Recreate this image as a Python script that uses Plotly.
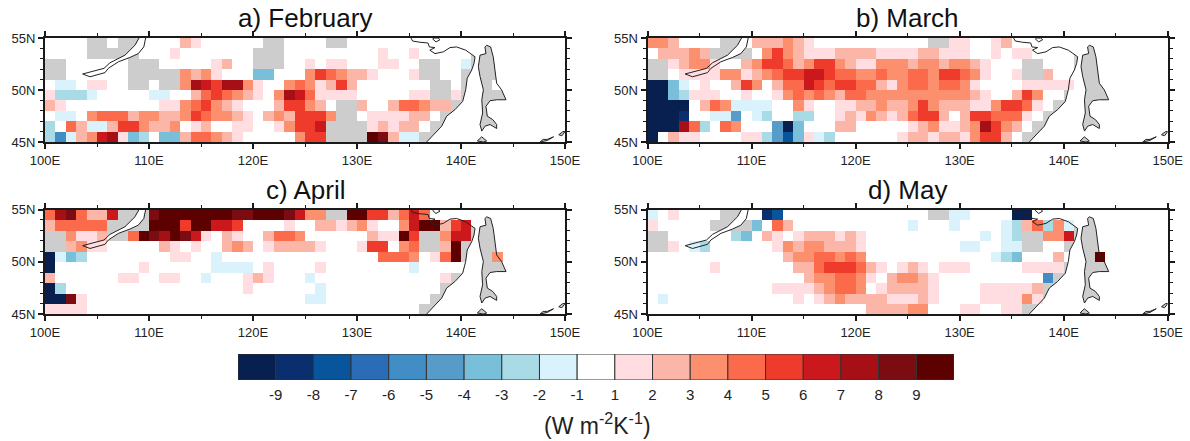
import numpy as np
import plotly.graph_objects as go

# Cell classes, west to east (100E..), north to south (55N..45N).
# '.' = class 0 (-1..1), 1-9 = positive classes, a-i = negative classes (a=-1 .. i=-9),
# '#' = no value. Rows are padded with '#' up to 50 cells.
FEBRUARY = [
    "....##.##. ...21..... .##....##. .......... .",
    "....#####. ..1....... ###....... ..1..1.... .",
    "##......## #.....12.. ###..1.11. ..11..##.. a",
    "##......## ###3231... cc...35432 21...1##.. #",
    ".aa.11..## .##3765773 1..3431252 .......##. ###.",
    "1bbba..... aa..245432 1.37641111 .....11##1 #",
    "21........ .11345321. ..25532.## 2..244322#",
    ".aa.344423 3223543321 .2325553## .111122.##",
    "b.42aa2553 223.12..11 ..13556### #12122.###",
    "bea23671cb .cc244321. ....355### #982aa####",
]
MARCH = [
    "332....##. 222321.... .......##1 1..12..... .",
    ".22232#### .353211122 2211112211 1..1.11... .",
    "##12331..2 3554235532 1133323323 321...##.. .",
    "##.1111331 2345566544 3343344355 431..1##2. .",
    "iica.1..25 3.24465455 4421344344 31....1111 1",
    "iicb111..1 ..13434324 4333333333 321..253.. #",
    "iiii.243aa aa..31..11 2232235322 21135541.#",
    "iiih..aad. ab..bb..12 132124552. 2554441.##",
    "iii74b.43. ..dic...22 .....12311 237532.###",
    "i.211....1 1bdgc1ab.. ....122122 13552.####",
]
APRIL = [
    "4784226### 8999999988 9998633##9 9552464... .",
    "244444#### 999599665. ...1..2212 31..369925 6",
    "##3112##49 879861.21. .2443..... .21195##36 6",
    "##2311.... .21.1..232 .122221... 155.34##29 #",
    "iacb...... ..11..a... .......... ..4443.149 ###3",
    "i........1 ......aaaa .1....1... .....a.... .",
    "2......11. .11..a...1 21...a.... ........1# #",
    "ib........ .........1 ......a... ........## #",
    "ii81...... .......... .....aa... .......###",
    "1111...... .......... .......... ......####",
]
MAY = [
    "a.1....##. .hg....... .......##a a....ii... .",
    "1.....#### c.42...... .....a...a ....ab24b3 a",
    "##......bc .21.122212 1......... ..a.ab##33 6",
    "##1.ab.... ..13233222 1......... aa..aa##.. #",
    ".......... ...2334434 3......... ...abc...2 .##9",
    "......1... ....224555 421.121.11 1.....1111 #",
    ".......... .....23344 31.23321.. ........e#",
    ".......... ..11112344 3.122221.. ..111112##",
    ".a........ ....1.1232 22211121.. ..111131##",
    ".......... .......... .222233... 11..11####",
]
PANEL_TITLES = ["a) February", "b) March", "c) April", "d) May"]
CLASS_COLORS = ["#08204f", "#0b2e6e", "#08559c", "#2a6cb5", "#418ec6", "#579bc9", "#7abfda",
                "#a9dbe6", "#daf2fb", "#ffffff", "#ffdde0", "#fcb6a8", "#fc8f6e", "#fb6a4a",
                "#ef3b2c", "#cb181d", "#a50f15", "#7a0c12", "#5c0000"]
BAR_CLASSES = list(range(-9, 10))
BAR_LABELS = ["-9", "-8", "-7", "-6", "-5", "-4", "-3", "-2", "-1",
              "1", "2", "3", "4", "5", "6", "7", "8", "9"]
X_TICKS = [100, 110, 120, 130, 140, 150]
X_LABELS = ["100E", "110E", "120E", "130E", "140E", "150E"]
Y_TICKS = [45, 50, 55]
Y_LABELS = ["45N", "50N", "55N"]

# Map outlines
COAST_LON = [135.19, 135.35, 136.06, 136.83, 136.96, 137.5, 137.0, 137.5, 138.3, 138.94, 139.58,
             140.45, 141.35, 141.25, 141.03, 140.6, 140.45, 140.16, 139.42, 138.62, 138.14,
             137.34, 136.76, 136.7]
COAST_LAT = [55.0, 54.71, 54.59, 54.52, 54.14, 54.08, 53.83, 53.5, 53.67, 54.08, 54.14,
             53.83, 53.19, 52.56, 51.92, 51.13, 50.02, 48.9, 48.11, 47.48, 46.52,
             45.73, 45.06, 45.0]
SAKHALIN_LON = [142.47, 142.85, 143.1, 143.27, 143.43, 143.9, 144.33, 143.43, 142.79, 142.4, 142.53,
                143.05, 143.43, 143.43, 142.79, 142.31, 142.0, 141.83, 142.08, 142.0, 142.15,
                141.83, 141.67, 141.83, 142.4, 142.3, 142.47]
SAKHALIN_LAT = [54.3, 54.14, 53.19, 51.6, 50.65, 50.02, 49.06, 49.06, 48.97, 48.43, 47.48,
                47.16, 46.68, 46.3, 46.68, 46.52, 46.05, 46.68, 47.79, 49.06, 50.02,
                51.3, 52.24, 53.35, 53.5, 54.14, 54.3]
BAIKAL_LON = [109.68, 109.5, 108.97, 108.17, 107.05, 106.09, 105.77, 104.8, 104.33, 103.62,
              105.13, 105.67, 106.25, 107.69, 108.65, 109.04]
BAIKAL_LAT = [55.0, 54.14, 53.5, 53.13, 52.71, 52.08, 51.67, 51.35, 51.27, 51.54,
              51.92, 52.08, 52.62, 53.35, 54.3, 55.0]
ISLANDS = [
    ([141.57, 141.99, 142.47, 142.15, 141.57], [45.1, 45.5, 45.1, 45.0, 45.1]),
    ([147.6, 147.9, 148.3, 148.9, 148.3, 147.6], [45.0, 45.25, 45.25, 45.5, 45.15, 45.0]),
    ([149.4, 149.8, 150.0, 149.7, 149.4], [45.7, 46.0, 46.0, 45.6, 45.7]),
    ([137.28, 137.6, 137.98, 137.8, 137.4, 137.28], [54.9, 54.62, 54.84, 55.0, 55.0, 54.9]),
]

CODES = {".": 0.0}
CODES.update({str(k): float(k) for k in range(1, 10)})
CODES.update({c: -float(i + 1) for i, c in enumerate("abcdefghi")})


def decode(rows):
    out = []
    for row in rows:
        cells = row.replace(" ", "").ljust(50, "#")
        assert len(cells) == 50, row
        out.append([CODES.get(c, np.nan) for c in cells])
    return out


W, H = 1190.0, 441.0
PANEL_BOX = [(45, 565, 38, 142), (647.5, 1167.7, 38, 142),
             (45, 565, 209.5, 314), (647.5, 1167.7, 209.5, 314)]
LAND_GREY = "#cdcdcd"
INK = "#1a1a1a"

colorscale = []
n = len(CLASS_COLORS)
for i, col in enumerate(CLASS_COLORS):
    colorscale += [[i / n, col], [(i + 1) / n, col]]

fig = go.Figure()
lon_c = [100.5 + i for i in range(50)]
lat_c = [54.5 - i for i in range(10)]
layout = {}
annotations = []

for p, rows in enumerate([FEBRUARY, MARCH, APRIL, MAY]):
    x0, x1, y0, y1 = PANEL_BOX[p]
    dom_x = [x0 / W, x1 / W]
    dom_y = [1 - y1 / H, 1 - y0 / H]
    b = 2 * p + 1
    o = 2 * p + 2
    bx, by, ox, oy = f"x{b}", f"y{b}", f"x{o}", f"y{o}"
    layout[f"xaxis{b}"] = dict(domain=dom_x, range=[100, 150], visible=False, anchor=by, automargin=False)
    layout[f"yaxis{b}"] = dict(domain=dom_y, range=[45, 55], visible=False, anchor=bx, automargin=False)
    common = dict(showline=True, linecolor=INK, linewidth=2, mirror="allticks", showgrid=False,
                  zeroline=False, ticks="outside", ticklen=5, tickwidth=1.5, tickcolor=INK, automargin=False,
                  tickfont=dict(family="Liberation Sans", size=13, color="#222222"))
    layout[f"xaxis{o}"] = dict(common, range=[100, 150], overlaying=bx, anchor=oy, side="bottom",
                               tickvals=X_TICKS, ticktext=X_LABELS,
                               minor=dict(tickvals=[105, 115, 125, 135, 145], ticks="outside",
                                          ticklen=3, tickwidth=1, tickcolor=INK))
    layout[f"yaxis{o}"] = dict(common, range=[45, 55], overlaying=by, anchor=ox, side="left",
                               tickvals=Y_TICKS, ticktext=Y_LABELS,
                               minor=dict(tickvals=[46, 47, 48, 49, 51, 52, 53, 54], ticks="outside",
                                          ticklen=3, tickwidth=1, tickcolor=INK))
    # Underlay: land, lake, islands
    land_x = [100, 100] + COAST_LON + [100]
    land_y = [45, 55] + COAST_LAT + [45]
    fig.add_trace(go.Scatter(x=land_x, y=land_y, xaxis=bx, yaxis=by, mode="lines", fill="toself",
                             fillcolor=LAND_GREY, line=dict(width=0), showlegend=False, hoverinfo="skip"))
    fig.add_trace(go.Scatter(x=SAKHALIN_LON, y=SAKHALIN_LAT, xaxis=bx, yaxis=by, mode="lines", fill="toself",
                             fillcolor=LAND_GREY, line=dict(width=0), showlegend=False, hoverinfo="skip"))
    for ilon, ilat in ISLANDS:
        fig.add_trace(go.Scatter(x=ilon, y=ilat, xaxis=bx, yaxis=by, mode="lines", fill="toself",
                                 fillcolor=LAND_GREY, line=dict(width=0), showlegend=False, hoverinfo="skip"))
    fig.add_trace(go.Scatter(x=BAIKAL_LON, y=BAIKAL_LAT, xaxis=bx, yaxis=by, mode="lines", fill="toself",
                             fillcolor="#ffffff", line=dict(width=0), showlegend=False, hoverinfo="skip"))
    # Values
    fig.add_trace(go.Heatmap(x=lon_c, y=lat_c, z=decode(rows), xaxis=ox, yaxis=oy, zmin=-9.5, zmax=9.5,
                             colorscale=colorscale, showscale=False, hoverongaps=False))
    # Outlines on top
    for lon, lat in [(COAST_LON, COAST_LAT), (SAKHALIN_LON, SAKHALIN_LAT), (BAIKAL_LON, BAIKAL_LAT)] + ISLANDS:
        fig.add_trace(go.Scatter(x=lon, y=lat, xaxis=ox, yaxis=oy, mode="lines",
                                 line=dict(color="#222222", width=1), showlegend=False, hoverinfo="skip"))
    annotations.append(dict(text=PANEL_TITLES[p], xref="paper", yref="paper", x=(x0 + x1) / 2 / W,
                            y=1 - (y0 - 3) / H, xanchor="center", yanchor="bottom", showarrow=False,
                            font=dict(family="Liberation Sans", size=26, color="#111111")))

# Colour key
bar_x = list(range(len(BAR_CLASSES)))
fig.add_trace(go.Bar(x=bar_x, y=[1] * len(BAR_CLASSES), width=1, xaxis="x9", yaxis="y9", customdata=BAR_CLASSES,
                     marker=dict(color=CLASS_COLORS, line=dict(color="#333333", width=1)),
                     showlegend=False, hoverinfo="skip"))
layout["xaxis9"] = dict(domain=[238 / W, 954 / W], range=[-0.5, 18.5], anchor="y9", showgrid=False, zeroline=False,
                        tickvals=[i + 0.5 for i in range(18)], ticktext=BAR_LABELS, ticks="", ticklabelstandoff=4,
                        automargin=False, tickfont=dict(family="Liberation Sans", size=15, color="#222222"))
layout["yaxis9"] = dict(domain=[1 - 380 / H, 1 - 354 / H], range=[0, 1], anchor="x9", visible=False, automargin=False)
annotations.append(dict(text="(W m<sup>-2</sup>K<sup>-1</sup>)", xref="paper", yref="paper", x=597 / W, y=1 - 424 / H,
                        xanchor="center", yanchor="middle", showarrow=False,
                        font=dict(family="Liberation Sans", size=23, color="#222222")))

fig.update_layout(width=1190, height=441, margin=dict(l=0, r=0, t=0, b=0), paper_bgcolor="white",
                  plot_bgcolor="rgba(0,0,0,0)", annotations=annotations, showlegend=False, **layout)
fig.write_html("out.html", config={"displayModeBar": False},
               post_script="document.body.style.margin='0';document.body.style.overflow='hidden';")
